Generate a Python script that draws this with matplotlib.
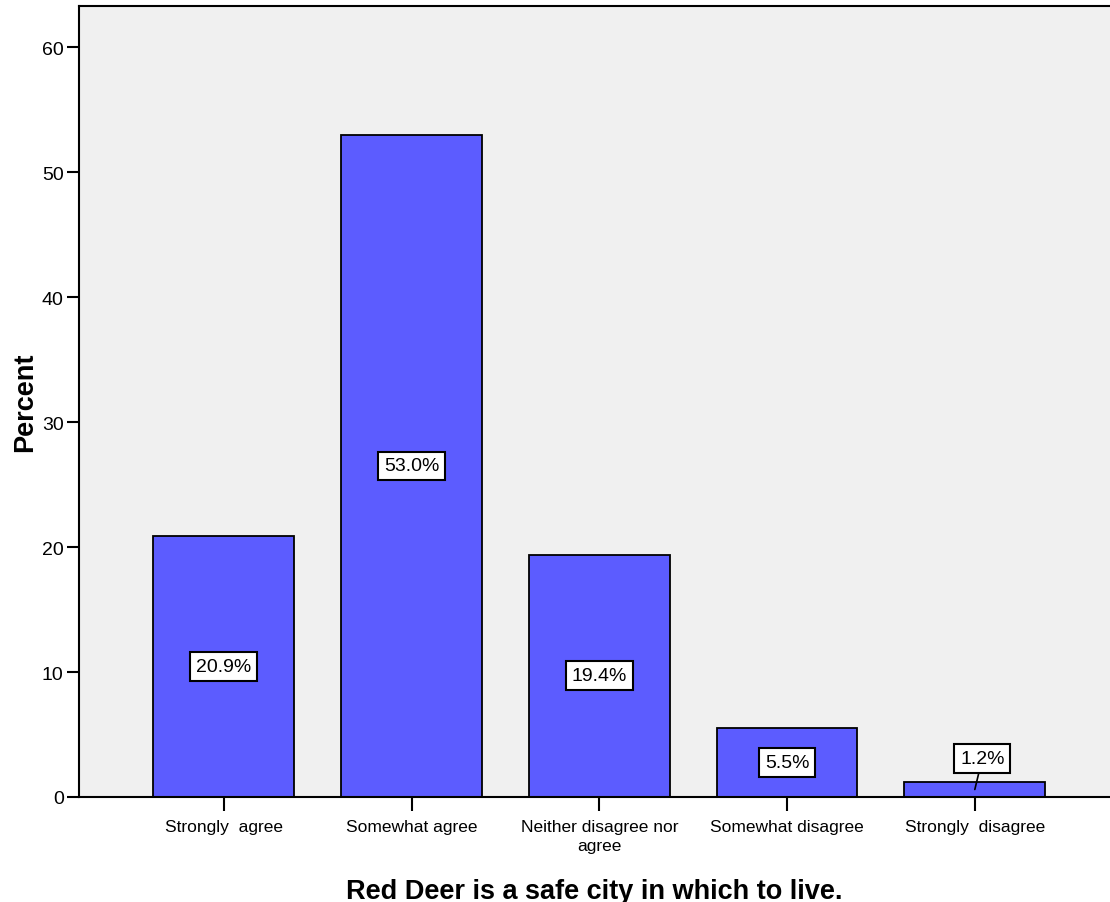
import matplotlib.pyplot as plt

categories = ["Strongly  agree", "Somewhat agree", "Neither disagree nor\nagree",
              "Somewhat disagree", "Strongly  disagree"]
percents = [20.9, 53.0, 19.4, 5.5, 1.2]

plt.rcParams['font.family'] = ['Liberation Sans', 'DejaVu Sans']

fig = plt.figure(figsize=(11.1, 9.03), dpi=100)
ax = fig.add_axes([79 / 1110, 105 / 903, 1 - 79 / 1110, 791 / 903])
ax.set_facecolor("#f0f0f0")

x = list(range(len(categories)))
ax.bar(x, percents, width=0.75, color="#5c5cff", edgecolor="black", linewidth=1.3, zorder=2)

box = dict(boxstyle="square,pad=0.3", facecolor="white", edgecolor="black", linewidth=1.5)
for i, p in enumerate(percents):
    label = f"{p:.1f}%"
    if p < 3:
        # too small to hold the label inside, put it above with a leader line
        ax.annotate(label, xy=(i, p * 0.5), xytext=(i + 0.04, p + 1.9),
                    ha="center", va="center", fontsize=14, bbox=box, zorder=3,
                    arrowprops=dict(arrowstyle="-", color="black", lw=1.2,
                                    shrinkA=0, shrinkB=0))
    else:
        ax.text(i, p / 2, label, ha="center", va="center", fontsize=14, bbox=box, zorder=3)

ax.set_xlim(-0.771, 4.72)
ax.set_ylim(0, 63.3)
ax.set_yticks([0, 10, 20, 30, 40, 50, 60])
ax.set_xticks(x)
ax.set_xticklabels(categories, fontsize=12.5, linespacing=1.3)
ax.tick_params(axis="y", labelsize=14, length=9, width=1.5, direction="out", pad=2)
ax.tick_params(axis="x", length=10, width=1.5, direction="out", pad=6)

for side in ["left", "bottom", "top"]:
    ax.spines[side].set_linewidth(1.5)
ax.spines["right"].set_visible(False)

ax.set_ylabel("Percent", fontsize=19.5, fontweight="bold", labelpad=3)
ax.set_xlabel("Red Deer is a safe city in which to live.", fontsize=19.5,
              fontweight="bold", labelpad=18)

fig.savefig("out.png", dpi=100)
